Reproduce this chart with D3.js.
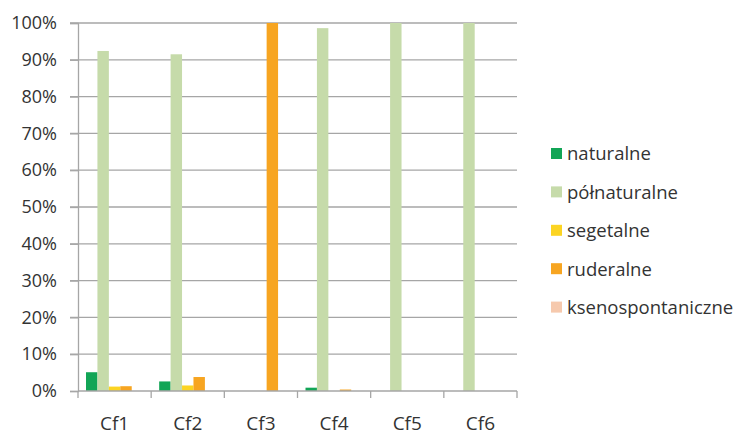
<!DOCTYPE html>
<html>
<head>
<meta charset="utf-8">
<script src="https://cdn.jsdelivr.net/npm/d3@7"></script>
<style>
  html, body { margin: 0; padding: 0; background: #fff; }
  svg { display: block; font-family: "Open Sans", sans-serif; }
</style>
</head>
<body>
<svg id="chart" width="735" height="433"></svg>
<script>
// Share of plant groups per site (percent)
const categories = ["Cf1", "Cf2", "Cf3", "Cf4", "Cf5", "Cf6"];
const seriesNames = ["naturalne", "półnaturalne", "segetalne", "ruderalne", "ksenospontaniczne"];
const naturalne         = [5.1, 2.6, 0, 0.9, 0, 0];
const polnaturalne      = [92.4, 91.5, 0, 98.6, 100, 100];
const segetalne         = [1.2, 1.5, 0, 0, 0, 0];
const ruderalne         = [1.3, 3.8, 100, 0.4, 0, 0];
const ksenospontaniczne = [0, 0, 0, 0, 0, 0];
const yTicks = [0, 10, 20, 30, 40, 50, 60, 70, 80, 90, 100];
const colors = ["#12a556", "#c6dbaa", "#fcd422", "#f7a521", "#f6c9ad"];

const seriesValues = [naturalne, polnaturalne, segetalne, ruderalne, ksenospontaniczne];

const svg = d3.select("#chart");
const plot = { left: 78, right: 517, top: 23, bottom: 391 };
const fontFamily = "'Open Sans', sans-serif";

const x = d3.scaleBand().domain(categories).range([plot.left, plot.right]).padding(0);
const xInner = d3.scaleBand().domain(seriesNames).range([0, x.bandwidth()])
  .paddingInner(0).paddingOuter(0.7);
const y = d3.scaleLinear().domain([0, 100]).range([plot.bottom, plot.top]);

const gridColor = "#a6a6a6";
const textColor = "#333333";

// horizontal gridlines with short outer ticks
svg.append("g")
  .selectAll("line")
  .data(yTicks.filter(d => d > 0))
  .join("line")
  .attr("x1", plot.left - 8)
  .attr("x2", plot.right)
  .attr("y1", d => y(d))
  .attr("y2", d => y(d))
  .attr("stroke", gridColor)
  .attr("stroke-width", 1.3);

// y axis
const yAxis = svg.append("g")
  .attr("transform", `translate(${plot.left},0)`)
  .call(d3.axisLeft(y).tickValues(yTicks).tickFormat(d => d + "%").tickSize(8).tickPadding(13));
yAxis.select(".domain").attr("stroke", gridColor).attr("stroke-width", 1.3);
yAxis.selectAll(".tick line").attr("stroke", gridColor).attr("stroke-width", 1.3);
yAxis.selectAll(".tick text")
  .attr("fill", textColor)
  .style("font-size", "18px")
  .style("font-family", fontFamily);

// bars
const groups = svg.append("g")
  .selectAll("g")
  .data(categories.map((c, i) => ({ c, i })))
  .join("g")
  .attr("transform", d => `translate(${x(d.c)},0)`);

groups.selectAll("rect")
  .data(d => seriesNames.map((s, k) => ({ s, k, v: seriesValues[k][d.i] })))
  .join("rect")
  .attr("x", d => xInner(d.s))
  .attr("width", xInner.bandwidth())
  .attr("y", d => y(d.v))
  .attr("height", d => plot.bottom - y(d.v))
  .attr("fill", d => colors[d.k]);

// x axis with ticks at category boundaries
const xAxis = svg.append("g").attr("transform", `translate(0,${plot.bottom})`);
xAxis.append("line")
  .attr("x1", plot.left).attr("x2", plot.right)
  .attr("stroke", gridColor).attr("stroke-width", 1.3);
const boundaries = categories.map(c => x(c)).concat([x(categories[categories.length - 1]) + x.bandwidth()]);
xAxis.selectAll("line.tick")
  .data(boundaries)
  .join("line")
  .attr("class", "tick")
  .attr("x1", d => d).attr("x2", d => d)
  .attr("y1", 0).attr("y2", 7)
  .attr("stroke", gridColor).attr("stroke-width", 1.3);
xAxis.selectAll("text")
  .data(categories)
  .join("text")
  .attr("x", d => x(d) + x.bandwidth() / 2)
  .attr("y", 39)
  .attr("text-anchor", "middle")
  .attr("fill", textColor)
  .style("font-size", "19px")
  .text(d => d);

// legend
const legend = svg.append("g").attr("transform", "translate(551,154)");
const items = legend.selectAll("g")
  .data(seriesNames)
  .join("g")
  .attr("transform", (d, i) => `translate(0,${i * 38.4})`);
items.append("rect")
  .attr("x", 0).attr("y", -6)
  .attr("width", 11).attr("height", 11)
  .attr("fill", (d, i) => colors[i]);
items.append("text")
  .attr("x", 16)
  .attr("y", 0)
  .attr("dy", "0.35em")
  .attr("fill", textColor)
  .style("font-size", "18.5px")
  .text(d => d);
</script>
</body>
</html>
